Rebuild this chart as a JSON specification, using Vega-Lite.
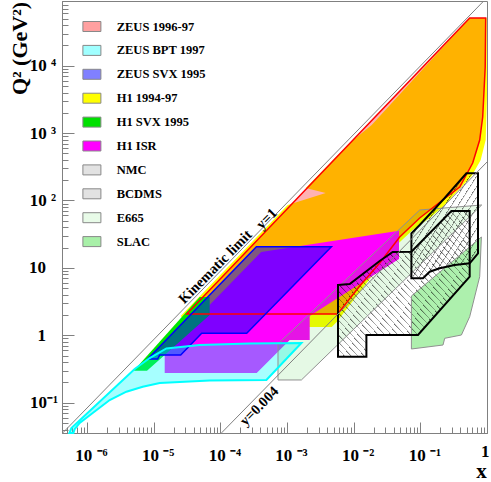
{
"$schema": "https://vega.github.io/schema/vega-lite/v6.json",
"width": 425, "height": 432,
"autosize": "none",
"padding": {"left": 62, "top": 1, "right": 4, "bottom": 49},
"background": "white",
"config": {"view": {"stroke": "#808080", "strokeWidth": 1}},
"datasets": {
"yel": [{"i":1,"x":2.543e-5,"q2":1.933},{"i":2,"x":1.0245e-3,"q2":85.76},{"i":3,"x":3.806e-3,"q2":129.2},{"i":4,"x":1.908e-3,"q2":153.2},{"i":5,"x":8.72e-3,"q2":713},{"i":6,"x":0.01864,"q2":1319},{"i":7,"x":0.55,"q2":51030},{"i":8,"x":0.9897,"q2":51030},{"i":9,"x":1.0,"q2":3676},{"i":10,"x":0.956,"q2":790},{"i":11,"x":0.8043,"q2":398.9},{"i":12,"x":0.5895,"q2":231},{"i":13,"x":0.3512,"q2":133.7},{"i":14,"x":0.2165,"q2":80.1},{"i":15,"x":0.1382,"q2":55.0},{"i":16,"x":0.0768,"q2":36.5},{"i":17,"x":0.04419,"q2":21.87},{"i":18,"x":0.02458,"q2":10.67},{"i":19,"x":0.01232,"q2":4.389},{"i":20,"x":5.566e-3,"q2":1.575},{"i":21,"x":4.683e-3,"q2":1.328},{"i":22,"x":3.47e-5,"q2":1.328}],
"red": [{"i":1,"x":3.13e-5,"q2":2.07},{"i":2,"x":0.55,"q2":51030},{"i":3,"x":0.956,"q2":51030},{"i":4,"x":0.94,"q2":9570},{"i":5,"x":0.862,"q2":1734},{"i":6,"x":0.777,"q2":790},{"i":7,"x":0.61,"q2":360},{"i":8,"x":0.3895,"q2":158.6},{"i":9,"x":0.2165,"q2":101.7},{"i":10,"x":0.0979,"q2":55.0},{"i":11,"x":0.049,"q2":28.7},{"i":12,"x":0.02458,"q2":11.82},{"i":13,"x":0.01232,"q2":5.387},{"i":14,"x":5.76e-3,"q2":2.07}],
"mag": [{"i":1,"x":1.464e-5,"q2":0.2758},{"i":2,"x":3.511e-4,"q2":0.2758},{"i":3,"x":1.098e-3,"q2":0.8516},{"i":4,"x":2.19e-3,"q2":0.8516},{"i":5,"x":2.19e-3,"q2":1.933},{"i":6,"x":0.04786,"q2":13.55},{"i":7,"x":0.04786,"q2":35.64},{"i":8,"x":4.102e-4,"q2":17.21},{"i":9,"x":1.464e-5,"q2":0.5848}],
"grn": [{"i":1,"x":5.018e-6,"q2":0.2983},{"i":2,"x":7.943e-6,"q2":0.2983},{"i":3,"x":6.926e-5,"q2":2.0},{"i":4,"x":6.926e-5,"q2":3.7},{"i":5,"x":4.904e-5,"q2":3.7}],
"blu": [{"i":1,"x":8.137e-6,"q2":0.4448},{"i":2,"x":1.149e-5,"q2":0.4448},{"i":3,"x":1.232e-5,"q2":0.5101},{"i":4,"x":2.543e-5,"q2":0.5101},{"i":5,"x":5.254e-5,"q2":1.071},{"i":6,"x":2.486e-4,"q2":1.071},{"i":7,"x":4.634e-3,"q2":20.63},{"i":8,"x":3.475e-4,"q2":20.63}],
"cyn": [{"i":1,"x":5.45e-7,"q2":0.0356},{"i":2,"x":5.834e-7,"q2":0.0421},{"i":3,"x":5.194e-6,"q2":0.316},{"i":4,"x":8.72e-6,"q2":0.46},{"i":5,"x":1.552e-5,"q2":0.637},{"i":6,"x":4.9e-5,"q2":0.718},{"i":7,"x":2.757e-4,"q2":0.755},{"i":8,"x":1.644e-3,"q2":0.769},{"i":9,"x":4.91e-4,"q2":0.217},{"i":10,"x":6.93e-5,"q2":0.213},{"i":11,"x":1.232e-5,"q2":0.196},{"i":12,"x":6.85e-6,"q2":0.1726},{"i":13,"x":3.9e-6,"q2":0.1455},{"i":14,"x":2.19e-6,"q2":0.1096},{"i":15,"x":1.218e-6,"q2":0.0703},{"i":16,"x":7.77e-7,"q2":0.05},{"i":17,"x":6.54e-7,"q2":0.0407},{"i":18,"x":6.25e-7,"q2":0.0356}],
"nmc": [{"i":1,"x":5.821e-3,"q2":5.575},{"i":2,"x":8.72e-3,"q2":5.769},{"i":3,"x":0.02458,"q2":12.66},{"i":4,"x":0.03849,"q2":17.21},{"i":5,"x":0.07345,"q2":17.39},{"i":6,"x":0.2924,"q2":69.88},{"i":7,"x":0.55,"q2":69.88},{"i":8,"x":0.55,"q2":7.403},{"i":9,"x":0.09226,"q2":1.01},{"i":10,"x":0.01552,"q2":1.01},{"i":11,"x":0.01552,"q2":0.4813},{"i":12,"x":5.821e-3,"q2":0.4813}],
"bcd": [{"i":1,"x":0.07345,"q2":7.009},{"i":2,"x":0.07345,"q2":32.61},{"i":3,"x":0.0979,"q2":43.3},{"i":4,"x":0.232,"q2":108.9},{"i":5,"x":0.4909,"q2":253.2},{"i":6,"x":0.7328,"q2":253.2},{"i":7,"x":0.7328,"q2":16.47},{"i":8,"x":0.55,"q2":11.7},{"i":9,"x":0.3277,"q2":11.04},{"i":10,"x":0.1952,"q2":9.863},{"i":11,"x":0.1382,"q2":8.783},{"i":12,"x":0.1096,"q2":7.009}],
"e665": [{"i":1,"x":7.328e-4,"q2":0.7428},{"i":2,"x":7.328e-4,"q2":0.2173},{"i":3,"x":1.644e-3,"q2":0.2173},{"i":4,"x":0.8325,"q2":85.76},{"i":5,"x":0.0979,"q2":72.3}],
"slac": [{"i":1,"x":0.07345,"q2":3.828},{"i":2,"x":0.07345,"q2":0.6263},{"i":3,"x":0.2188,"q2":0.7178},{"i":4,"x":0.232,"q2":0.9024},{"i":5,"x":0.413,"q2":1.01},{"i":6,"x":0.55,"q2":1.888},{"i":7,"x":0.777,"q2":7.403},{"i":8,"x":0.8241,"q2":28.73}],
"kin": [{"i":1,"x":4.325e-7,"q2":0.0356},{"i":2,"x":0.8927,"q2":91201}],
"y004": [{"i":1,"x":1.04e-4,"q2":0.0356},{"i":2,"x":1.0,"q2":372}],
"lbl": [{"t":"Kinematic limit","x":8.49e-5,"q2":10.2},{"t":"y=1","x":5.01e-4,"q2":53.1},{"t":"y=0.004","x":3.88e-4,"q2":0.0878}],
"leg": [{"name":"ZEUS 1996-97"},{"name":"ZEUS BPT 1997"},{"name":"ZEUS SVX 1995"},{"name":"H1 1994-97"},{"name":"H1 SVX 1995"},{"name":"H1 ISR"},{"name":"NMC"},{"name":"BCDMS"},{"name":"E665"},{"name":"SLAC"}]
},
"encoding": {
"x": {"field": "x", "type": "quantitative",
 "scale": {"type": "log", "domain": [4.217e-7, 1], "nice": false},
 "axis": {"values": [5e-7,6e-7,7e-7,8e-7,9e-7,1e-6,2e-6,3e-6,4e-6,5e-6,6e-6,7e-6,8e-6,9e-6,1e-5,2e-5,3e-5,4e-5,5e-5,6e-5,7e-5,8e-5,9e-5,1e-4,2e-4,3e-4,4e-4,5e-4,6e-4,7e-4,8e-4,9e-4,1e-3,2e-3,3e-3,4e-3,5e-3,6e-3,7e-3,8e-3,9e-3,0.01,0.02,0.03,0.04,0.05,0.06,0.07,0.08,0.09,0.1,0.2,0.3,0.4,0.5,0.6,0.7,0.8,0.9,1],
  "grid": false, "domainColor": "#808080", "tickColor": "#808080",
  "tickSize": {"condition": {"test": "abs(log(datum.value)/LN10 - round(log(datum.value)/LN10)) < 0.001", "value": -11}, "value": -6},
  "labelExpr": "datum.value == 1e-6 ? '10 ⁻⁶' : datum.value == 1e-5 ? '10 ⁻⁵' : datum.value == 1e-4 ? '10 ⁻⁴' : datum.value == 1e-3 ? '10 ⁻³' : datum.value == 0.01 ? '10 ⁻²' : datum.value == 0.1 ? '10 ⁻¹' : datum.value == 1 ? '1' : ''",
  "labelFont": "Liberation Serif", "labelFontWeight": "bold", "labelFontSize": 17, "labelColor": "black",
  "labelAlign": {"condition": {"test": "datum.value == 1", "value": "right"}, "value": "center"},
  "labelOffset": {"condition": {"test": "datum.value == 1", "value": 2}, "value": 4},
  "labelPadding": {"condition": {"test": "datum.value == 1", "value": 34}, "value": 38},
  "labelBaseline": "alphabetic",
  "labelFlush": false, "labelOverlap": false, "labelBound": false,
  "title": "x", "titleFont": "Liberation Serif", "titleFontWeight": "bold", "titleFontSize": 21, "titleColor": "black",
  "titleX": 419, "titleY": 48, "titleAlign": "center", "titleBaseline": "bottom"}},
"y": {"field": "q2", "type": "quantitative",
 "scale": {"type": "log", "domain": [0.03551, 91201], "nice": false},
 "axis": {"values": [0.04,0.05,0.06,0.07,0.08,0.09,0.1,0.2,0.3,0.4,0.5,0.6,0.7,0.8,0.9,1,2,3,4,5,6,7,8,9,10,20,30,40,50,60,70,80,90,100,200,300,400,500,600,700,800,900,1000,2000,3000,4000,5000,6000,7000,8000,9000,10000,20000,30000,40000,50000,60000,70000,80000,90000],
  "grid": false, "domainColor": "#808080", "tickColor": "#808080",
  "tickSize": {"condition": {"test": "abs(log(datum.value)/LN10 - round(log(datum.value)/LN10)) < 0.001", "value": -12}, "value": -6},
  "labelExpr": "datum.value == 0.1 ? '10⁻¹' : datum.value == 1 ? '1' : datum.value == 10 ? '10' : datum.value == 100 ? '10 ²' : datum.value == 1000 ? '10 ³' : datum.value == 10000 ? '10 ⁴' : ''",
  "labelFont": "Liberation Serif", "labelFontWeight": "bold", "labelFontSize": 17, "labelColor": "black",
  "labelAlign": "right", "labelBaseline": "middle",
  "labelPadding": {"condition": [{"test": "datum.value == 1 || datum.value == 10", "value": 28.5}, {"test": "datum.value == 0.1", "value": 16.5}], "value": 18.5},
  "labelFlush": false, "labelOverlap": false, "labelBound": false,
  "title": "Q² (GeV²)", "titleFont": "Liberation Serif", "titleFontWeight": "bold", "titleFontSize": 22, "titleColor": "black",
  "titleAngle": -90, "titleX": -36, "titleY": 47, "titleAlign": "center", "titleBaseline": "alphabetic"}},
"order": {"field": "i", "type": "quantitative"}
},
"layer": [
{"data": {"name": "yel"}, "mark": {"type": "line", "interpolate": "linear-closed", "fill": "#ffff00", "strokeOpacity": 0}},
{"data": {"name": "red"}, "mark": {"type": "line", "interpolate": "linear-closed", "fill": "#ff0000", "fillOpacity": 0.3, "strokeOpacity": 0}},
{"data": {"name": "mag"}, "mark": {"type": "line", "interpolate": "linear-closed", "fill": "#ff00ff", "strokeOpacity": 0}},
{"data": {"name": "grn"}, "mark": {"type": "line", "interpolate": "linear-closed", "fill": "#00e600", "strokeOpacity": 0}},
{"data": {"name": "blu"}, "mark": {"type": "line", "interpolate": "linear-closed", "fill": "#0000ff", "fillOpacity": 0.5, "strokeOpacity": 0}},
{"data": {"name": "cyn"}, "mark": {"type": "line", "interpolate": "linear-closed", "fill": "#00ffff", "fillOpacity": 0.35, "strokeOpacity": 0}},
{"data": {"name": "e665"}, "mark": {"type": "line", "interpolate": "linear-closed", "fill": "#00c000", "fillOpacity": 0.1, "strokeOpacity": 0}},
{"data": {"name": "slac"}, "mark": {"type": "line", "interpolate": "linear-closed", "fill": "#00d000", "fillOpacity": 0.32, "strokeOpacity": 0}},
{"data": {"name": "nmc"}, "mark": {"type": "line", "interpolate": "linear-closed", "strokeOpacity": 0,
 "fill": {"gradient": "linear", "x1": 0, "y1": 1, "x2": 1, "y2": 0, "stops": [
{"offset":0,"color":"rgba(0,0,0,0.6)"},{"offset":0.006,"color":"rgba(0,0,0,0)"},{"offset":0.025,"color":"rgba(0,0,0,0)"},
{"offset":0.025,"color":"rgba(0,0,0,0.6)"},{"offset":0.031,"color":"rgba(0,0,0,0)"},{"offset":0.05,"color":"rgba(0,0,0,0)"},
{"offset":0.05,"color":"rgba(0,0,0,0.6)"},{"offset":0.056,"color":"rgba(0,0,0,0)"},{"offset":0.075,"color":"rgba(0,0,0,0)"},
{"offset":0.075,"color":"rgba(0,0,0,0.6)"},{"offset":0.081,"color":"rgba(0,0,0,0)"},{"offset":0.1,"color":"rgba(0,0,0,0)"},
{"offset":0.1,"color":"rgba(0,0,0,0.6)"},{"offset":0.106,"color":"rgba(0,0,0,0)"},{"offset":0.125,"color":"rgba(0,0,0,0)"},
{"offset":0.125,"color":"rgba(0,0,0,0.6)"},{"offset":0.131,"color":"rgba(0,0,0,0)"},{"offset":0.15,"color":"rgba(0,0,0,0)"},
{"offset":0.15,"color":"rgba(0,0,0,0.6)"},{"offset":0.156,"color":"rgba(0,0,0,0)"},{"offset":0.175,"color":"rgba(0,0,0,0)"},
{"offset":0.175,"color":"rgba(0,0,0,0.6)"},{"offset":0.181,"color":"rgba(0,0,0,0)"},{"offset":0.2,"color":"rgba(0,0,0,0)"},
{"offset":0.2,"color":"rgba(0,0,0,0.6)"},{"offset":0.206,"color":"rgba(0,0,0,0)"},{"offset":0.225,"color":"rgba(0,0,0,0)"},
{"offset":0.225,"color":"rgba(0,0,0,0.6)"},{"offset":0.231,"color":"rgba(0,0,0,0)"},{"offset":0.25,"color":"rgba(0,0,0,0)"},
{"offset":0.25,"color":"rgba(0,0,0,0.6)"},{"offset":0.256,"color":"rgba(0,0,0,0)"},{"offset":0.275,"color":"rgba(0,0,0,0)"},
{"offset":0.275,"color":"rgba(0,0,0,0.6)"},{"offset":0.281,"color":"rgba(0,0,0,0)"},{"offset":0.3,"color":"rgba(0,0,0,0)"},
{"offset":0.3,"color":"rgba(0,0,0,0.6)"},{"offset":0.306,"color":"rgba(0,0,0,0)"},{"offset":0.325,"color":"rgba(0,0,0,0)"},
{"offset":0.325,"color":"rgba(0,0,0,0.6)"},{"offset":0.331,"color":"rgba(0,0,0,0)"},{"offset":0.35,"color":"rgba(0,0,0,0)"},
{"offset":0.35,"color":"rgba(0,0,0,0.6)"},{"offset":0.356,"color":"rgba(0,0,0,0)"},{"offset":0.375,"color":"rgba(0,0,0,0)"},
{"offset":0.375,"color":"rgba(0,0,0,0.6)"},{"offset":0.381,"color":"rgba(0,0,0,0)"},{"offset":0.4,"color":"rgba(0,0,0,0)"},
{"offset":0.4,"color":"rgba(0,0,0,0.6)"},{"offset":0.406,"color":"rgba(0,0,0,0)"},{"offset":0.425,"color":"rgba(0,0,0,0)"},
{"offset":0.425,"color":"rgba(0,0,0,0.6)"},{"offset":0.431,"color":"rgba(0,0,0,0)"},{"offset":0.45,"color":"rgba(0,0,0,0)"},
{"offset":0.45,"color":"rgba(0,0,0,0.6)"},{"offset":0.456,"color":"rgba(0,0,0,0)"},{"offset":0.475,"color":"rgba(0,0,0,0)"},
{"offset":0.475,"color":"rgba(0,0,0,0.6)"},{"offset":0.481,"color":"rgba(0,0,0,0)"},{"offset":0.5,"color":"rgba(0,0,0,0)"},
{"offset":0.5,"color":"rgba(0,0,0,0.6)"},{"offset":0.506,"color":"rgba(0,0,0,0)"},{"offset":0.525,"color":"rgba(0,0,0,0)"},
{"offset":0.525,"color":"rgba(0,0,0,0.6)"},{"offset":0.531,"color":"rgba(0,0,0,0)"},{"offset":0.55,"color":"rgba(0,0,0,0)"},
{"offset":0.55,"color":"rgba(0,0,0,0.6)"},{"offset":0.556,"color":"rgba(0,0,0,0)"},{"offset":0.575,"color":"rgba(0,0,0,0)"},
{"offset":0.575,"color":"rgba(0,0,0,0.6)"},{"offset":0.581,"color":"rgba(0,0,0,0)"},{"offset":0.6,"color":"rgba(0,0,0,0)"},
{"offset":0.6,"color":"rgba(0,0,0,0.6)"},{"offset":0.606,"color":"rgba(0,0,0,0)"},{"offset":0.625,"color":"rgba(0,0,0,0)"},
{"offset":0.625,"color":"rgba(0,0,0,0.6)"},{"offset":0.631,"color":"rgba(0,0,0,0)"},{"offset":0.65,"color":"rgba(0,0,0,0)"},
{"offset":0.65,"color":"rgba(0,0,0,0.6)"},{"offset":0.656,"color":"rgba(0,0,0,0)"},{"offset":0.675,"color":"rgba(0,0,0,0)"},
{"offset":0.675,"color":"rgba(0,0,0,0.6)"},{"offset":0.681,"color":"rgba(0,0,0,0)"},{"offset":0.7,"color":"rgba(0,0,0,0)"},
{"offset":0.7,"color":"rgba(0,0,0,0.6)"},{"offset":0.706,"color":"rgba(0,0,0,0)"},{"offset":0.725,"color":"rgba(0,0,0,0)"},
{"offset":0.725,"color":"rgba(0,0,0,0.6)"},{"offset":0.731,"color":"rgba(0,0,0,0)"},{"offset":0.75,"color":"rgba(0,0,0,0)"},
{"offset":0.75,"color":"rgba(0,0,0,0.6)"},{"offset":0.756,"color":"rgba(0,0,0,0)"},{"offset":0.775,"color":"rgba(0,0,0,0)"},
{"offset":0.775,"color":"rgba(0,0,0,0.6)"},{"offset":0.781,"color":"rgba(0,0,0,0)"},{"offset":0.8,"color":"rgba(0,0,0,0)"},
{"offset":0.8,"color":"rgba(0,0,0,0.6)"},{"offset":0.806,"color":"rgba(0,0,0,0)"},{"offset":0.825,"color":"rgba(0,0,0,0)"},
{"offset":0.825,"color":"rgba(0,0,0,0.6)"},{"offset":0.831,"color":"rgba(0,0,0,0)"},{"offset":0.85,"color":"rgba(0,0,0,0)"},
{"offset":0.85,"color":"rgba(0,0,0,0.6)"},{"offset":0.856,"color":"rgba(0,0,0,0)"},{"offset":0.875,"color":"rgba(0,0,0,0)"},
{"offset":0.875,"color":"rgba(0,0,0,0.6)"},{"offset":0.881,"color":"rgba(0,0,0,0)"},{"offset":0.9,"color":"rgba(0,0,0,0)"},
{"offset":0.9,"color":"rgba(0,0,0,0.6)"},{"offset":0.906,"color":"rgba(0,0,0,0)"},{"offset":0.925,"color":"rgba(0,0,0,0)"},
{"offset":0.925,"color":"rgba(0,0,0,0.6)"},{"offset":0.931,"color":"rgba(0,0,0,0)"},{"offset":0.95,"color":"rgba(0,0,0,0)"},
{"offset":0.95,"color":"rgba(0,0,0,0.6)"},{"offset":0.956,"color":"rgba(0,0,0,0)"},{"offset":0.975,"color":"rgba(0,0,0,0)"},
{"offset":0.975,"color":"rgba(0,0,0,0.6)"},{"offset":0.981,"color":"rgba(0,0,0,0)"},{"offset":1,"color":"rgba(0,0,0,0)"}
]}}},
{"data": {"name": "bcd"}, "mark": {"type": "line", "interpolate": "linear-closed", "strokeOpacity": 0,
 "fill": {"gradient": "linear", "x1": 0, "y1": 0, "x2": 1, "y2": 1, "stops": [
{"offset":0,"color":"rgba(0,0,0,0.6)"},{"offset":0.011,"color":"rgba(0,0,0,0)"},{"offset":0.05,"color":"rgba(0,0,0,0)"},
{"offset":0.05,"color":"rgba(0,0,0,0.6)"},{"offset":0.061,"color":"rgba(0,0,0,0)"},{"offset":0.1,"color":"rgba(0,0,0,0)"},
{"offset":0.1,"color":"rgba(0,0,0,0.6)"},{"offset":0.111,"color":"rgba(0,0,0,0)"},{"offset":0.15,"color":"rgba(0,0,0,0)"},
{"offset":0.15,"color":"rgba(0,0,0,0.6)"},{"offset":0.161,"color":"rgba(0,0,0,0)"},{"offset":0.2,"color":"rgba(0,0,0,0)"},
{"offset":0.2,"color":"rgba(0,0,0,0.6)"},{"offset":0.211,"color":"rgba(0,0,0,0)"},{"offset":0.25,"color":"rgba(0,0,0,0)"},
{"offset":0.25,"color":"rgba(0,0,0,0.6)"},{"offset":0.261,"color":"rgba(0,0,0,0)"},{"offset":0.3,"color":"rgba(0,0,0,0)"},
{"offset":0.3,"color":"rgba(0,0,0,0.6)"},{"offset":0.311,"color":"rgba(0,0,0,0)"},{"offset":0.35,"color":"rgba(0,0,0,0)"},
{"offset":0.35,"color":"rgba(0,0,0,0.6)"},{"offset":0.361,"color":"rgba(0,0,0,0)"},{"offset":0.4,"color":"rgba(0,0,0,0)"},
{"offset":0.4,"color":"rgba(0,0,0,0.6)"},{"offset":0.411,"color":"rgba(0,0,0,0)"},{"offset":0.45,"color":"rgba(0,0,0,0)"},
{"offset":0.45,"color":"rgba(0,0,0,0.6)"},{"offset":0.461,"color":"rgba(0,0,0,0)"},{"offset":0.5,"color":"rgba(0,0,0,0)"},
{"offset":0.5,"color":"rgba(0,0,0,0.6)"},{"offset":0.511,"color":"rgba(0,0,0,0)"},{"offset":0.55,"color":"rgba(0,0,0,0)"},
{"offset":0.55,"color":"rgba(0,0,0,0.6)"},{"offset":0.561,"color":"rgba(0,0,0,0)"},{"offset":0.6,"color":"rgba(0,0,0,0)"},
{"offset":0.6,"color":"rgba(0,0,0,0.6)"},{"offset":0.611,"color":"rgba(0,0,0,0)"},{"offset":0.65,"color":"rgba(0,0,0,0)"},
{"offset":0.65,"color":"rgba(0,0,0,0.6)"},{"offset":0.661,"color":"rgba(0,0,0,0)"},{"offset":0.7,"color":"rgba(0,0,0,0)"},
{"offset":0.7,"color":"rgba(0,0,0,0.6)"},{"offset":0.711,"color":"rgba(0,0,0,0)"},{"offset":0.75,"color":"rgba(0,0,0,0)"},
{"offset":0.75,"color":"rgba(0,0,0,0.6)"},{"offset":0.761,"color":"rgba(0,0,0,0)"},{"offset":0.8,"color":"rgba(0,0,0,0)"},
{"offset":0.8,"color":"rgba(0,0,0,0.6)"},{"offset":0.811,"color":"rgba(0,0,0,0)"},{"offset":0.85,"color":"rgba(0,0,0,0)"},
{"offset":0.85,"color":"rgba(0,0,0,0.6)"},{"offset":0.861,"color":"rgba(0,0,0,0)"},{"offset":0.9,"color":"rgba(0,0,0,0)"},
{"offset":0.9,"color":"rgba(0,0,0,0.6)"},{"offset":0.911,"color":"rgba(0,0,0,0)"},{"offset":0.95,"color":"rgba(0,0,0,0)"},
{"offset":0.95,"color":"rgba(0,0,0,0.6)"},{"offset":0.961,"color":"rgba(0,0,0,0)"},{"offset":1,"color":"rgba(0,0,0,0)"}
]}}},
{"data": {"name": "e665"}, "mark": {"type": "line", "interpolate": "linear-closed", "stroke": "#909090", "strokeWidth": 1}},
{"data": {"name": "slac"}, "mark": {"type": "line", "interpolate": "linear-closed", "stroke": "#909090", "strokeWidth": 1}},
{"data": {"name": "red"}, "mark": {"type": "line", "interpolate": "linear-closed", "stroke": "#ff0000", "strokeWidth": 1.5}},
{"data": {"name": "blu"}, "mark": {"type": "line", "interpolate": "linear-closed", "stroke": "#0000ff", "strokeWidth": 1.5}},
{"data": {"name": "cyn"}, "mark": {"type": "line", "interpolate": "linear-closed", "stroke": "#00ffff", "strokeWidth": 2}},
{"data": {"name": "nmc"}, "mark": {"type": "line", "interpolate": "linear-closed", "stroke": "#000000", "strokeWidth": 2}},
{"data": {"name": "bcd"}, "mark": {"type": "line", "interpolate": "linear-closed", "stroke": "#000000", "strokeWidth": 2}},
{"data": {"name": "kin"}, "mark": {"type": "line", "stroke": "#808080", "strokeWidth": 1}},
{"data": {"name": "y004"}, "mark": {"type": "line", "stroke": "#808080", "strokeWidth": 1}},
{"data": {"name": "lbl"}, "mark": {"type": "text", "angle": 314.7, "font": "Liberation Serif", "fontWeight": "bold", "fontSize": 14.5, "align": "center", "baseline": "middle", "color": "black"},
 "encoding": {"text": {"field": "t"}}},
{"data": {"name": "leg"}, "mark": {"type": "point", "filled": true, "opacity": 0, "stroke": "#888888", "strokeWidth": 1, "shape": "M-1,-0.555H1V0.555H-1Z", "size": 324},
 "encoding": {"color": {"field": "name", "type": "nominal",
  "scale": {"domain": ["ZEUS 1996-97","ZEUS BPT 1997","ZEUS SVX 1995","H1 1994-97","H1 SVX 1995","H1 ISR","NMC","BCDMS","E665","SLAC"],
   "range": ["#ffa0a0","#a0ffff","#8080ff","#ffff00","#00e000","#ff00ff","#e2e2e2","#e2e2e2","#e8fbe8","#a8f0a8"]},
  "legend": {"orient": "none", "legendX": 20.4, "legendY": 16, "title": null, "padding": 0,
   "symbolType": "M-1,-0.555H1V0.555H-1Z", "symbolSize": 324, "symbolStrokeColor": "#888888", "symbolStrokeWidth": 1, "symbolOpacity": 1,
   "labelFont": "Liberation Serif", "labelFontWeight": "bold", "labelFontSize": 12.5, "labelColor": "black", "labelOffset": 15.3, "labelLimit": 300,
   "rowPadding": 6.9}}}}
]
}
